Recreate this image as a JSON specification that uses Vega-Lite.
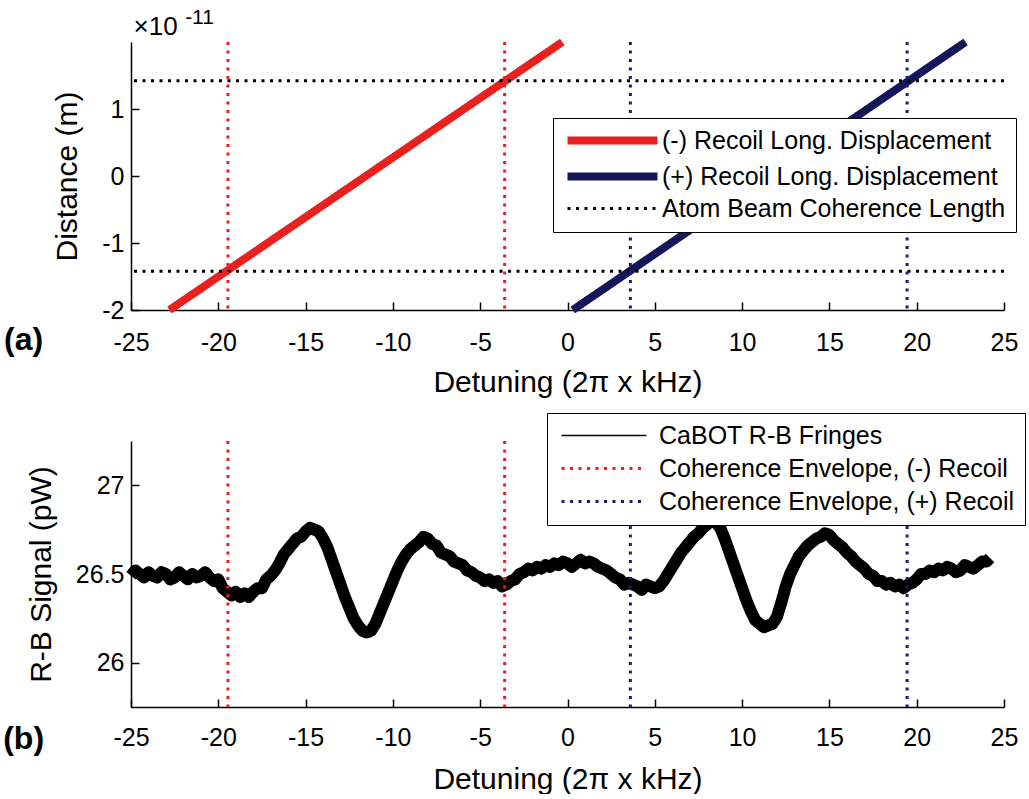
{
  "$schema": "https://vega.github.io/schema/vega-lite/v6.json",
  "background": "white",
  "padding": {"left": 3, "top": 6, "right": 0, "bottom": 0},
  "bounds": "flush",
  "spacing": 131,
  "config": {
    "font": "Liberation Sans",
    "view": {"stroke": null},
    "axis": {
      "labelFont": "Liberation Sans", "labelFontSize": 25, "labelColor": "black",
      "titleFont": "Liberation Sans", "titleFontSize": 30, "titleFontWeight": "normal", "titleColor": "black",
      "domainColor": "black", "domainWidth": 1.5, "tickColor": "black", "tickWidth": 1.5, "tickSize": -8,
      "grid": false, "labelFlush": false, "labelOverlap": false, "labelBound": false
    },
    "legend": {
      "labelFont": "Liberation Sans", "labelFontSize": 25, "labelColor": "black", "labelLimit": 0,
      "strokeColor": "black", "fillColor": "white", "padding": 10,
      "rowPadding": 7
    }
  },
  "datasets": {
    "recoil_lines": [
      {"series": "(-) Recoil Long. Displacement", "detuning": -22.8, "distance": -2e-11},
      {"series": "(-) Recoil Long. Displacement", "detuning": -0.3, "distance": 2e-11},
      {"series": "(+) Recoil Long. Displacement", "detuning": 0.3, "distance": -2e-11},
      {"series": "(+) Recoil Long. Displacement", "detuning": 22.8, "distance": 2e-11}
    ],
    "coherence": [
      {"series": "Atom Beam Coherence Length", "distance": 1.42e-11},
      {"series": "Atom Beam Coherence Length", "distance": -1.42e-11}
    ],
    "envelope_a": [
      {"recoil": "-", "detuning": -19.45},
      {"recoil": "-", "detuning": -3.6},
      {"recoil": "+", "detuning": 3.6},
      {"recoil": "+", "detuning": 19.45}
    ],
    "envelope_b": [
      {"series": "Coherence Envelope, (-) Recoil", "detuning": -19.45},
      {"series": "Coherence Envelope, (-) Recoil", "detuning": -3.6},
      {"series": "Coherence Envelope, (+) Recoil", "detuning": 3.6},
      {"series": "Coherence Envelope, (+) Recoil", "detuning": 19.45}
    ],
    "fringes": [
      {"detuning": -25, "signal": 26.49}, {"detuning": -24.75, "signal": 26.52}, {"detuning": -24.5, "signal": 26.5}, {"detuning": -24.25, "signal": 26.48},
      {"detuning": -24, "signal": 26.51}, {"detuning": -23.75, "signal": 26.49}, {"detuning": -23.5, "signal": 26.48}, {"detuning": -23.25, "signal": 26.51},
      {"detuning": -23, "signal": 26.5}, {"detuning": -22.75, "signal": 26.47}, {"detuning": -22.5, "signal": 26.48}, {"detuning": -22.25, "signal": 26.51},
      {"detuning": -22, "signal": 26.49}, {"detuning": -21.75, "signal": 26.47}, {"detuning": -21.5, "signal": 26.5}, {"detuning": -21.25, "signal": 26.48},
      {"detuning": -21, "signal": 26.49}, {"detuning": -20.75, "signal": 26.51}, {"detuning": -20.5, "signal": 26.48}, {"detuning": -20.25, "signal": 26.46},
      {"detuning": -20, "signal": 26.47}, {"detuning": -19.75, "signal": 26.42}, {"detuning": -19.5, "signal": 26.4}, {"detuning": -19.25, "signal": 26.38},
      {"detuning": -19, "signal": 26.4}, {"detuning": -18.75, "signal": 26.37}, {"detuning": -18.5, "signal": 26.39}, {"detuning": -18.25, "signal": 26.37},
      {"detuning": -18, "signal": 26.4}, {"detuning": -17.75, "signal": 26.42}, {"detuning": -17.5, "signal": 26.42}, {"detuning": -17.25, "signal": 26.47},
      {"detuning": -17, "signal": 26.49}, {"detuning": -16.75, "signal": 26.52}, {"detuning": -16.5, "signal": 26.56}, {"detuning": -16.25, "signal": 26.61},
      {"detuning": -16, "signal": 26.64}, {"detuning": -15.75, "signal": 26.67}, {"detuning": -15.5, "signal": 26.7}, {"detuning": -15.25, "signal": 26.71},
      {"detuning": -15, "signal": 26.74}, {"detuning": -14.75, "signal": 26.76}, {"detuning": -14.5, "signal": 26.75}, {"detuning": -14.25, "signal": 26.74},
      {"detuning": -14, "signal": 26.7}, {"detuning": -13.75, "signal": 26.65}, {"detuning": -13.5, "signal": 26.58}, {"detuning": -13.25, "signal": 26.51},
      {"detuning": -13, "signal": 26.44}, {"detuning": -12.75, "signal": 26.37}, {"detuning": -12.5, "signal": 26.31}, {"detuning": -12.25, "signal": 26.25},
      {"detuning": -12, "signal": 26.21}, {"detuning": -11.75, "signal": 26.18}, {"detuning": -11.5, "signal": 26.17}, {"detuning": -11.25, "signal": 26.18},
      {"detuning": -11, "signal": 26.22}, {"detuning": -10.75, "signal": 26.28}, {"detuning": -10.5, "signal": 26.34}, {"detuning": -10.25, "signal": 26.4},
      {"detuning": -10, "signal": 26.46}, {"detuning": -9.75, "signal": 26.52}, {"detuning": -9.5, "signal": 26.57}, {"detuning": -9.25, "signal": 26.61},
      {"detuning": -9, "signal": 26.64}, {"detuning": -8.75, "signal": 26.66}, {"detuning": -8.5, "signal": 26.68}, {"detuning": -8.25, "signal": 26.71},
      {"detuning": -8, "signal": 26.7}, {"detuning": -7.75, "signal": 26.67}, {"detuning": -7.5, "signal": 26.66}, {"detuning": -7.25, "signal": 26.62},
      {"detuning": -7, "signal": 26.61}, {"detuning": -6.75, "signal": 26.6}, {"detuning": -6.5, "signal": 26.57}, {"detuning": -6.25, "signal": 26.56},
      {"detuning": -6, "signal": 26.55}, {"detuning": -5.75, "signal": 26.52}, {"detuning": -5.5, "signal": 26.51}, {"detuning": -5.25, "signal": 26.49},
      {"detuning": -5, "signal": 26.48}, {"detuning": -4.75, "signal": 26.46}, {"detuning": -4.5, "signal": 26.47}, {"detuning": -4.25, "signal": 26.45},
      {"detuning": -4, "signal": 26.46}, {"detuning": -3.75, "signal": 26.43}, {"detuning": -3.5, "signal": 26.44}, {"detuning": -3.25, "signal": 26.46},
      {"detuning": -3, "signal": 26.47}, {"detuning": -2.75, "signal": 26.5}, {"detuning": -2.5, "signal": 26.51}, {"detuning": -2.25, "signal": 26.53},
      {"detuning": -2, "signal": 26.52}, {"detuning": -1.75, "signal": 26.54}, {"detuning": -1.5, "signal": 26.53}, {"detuning": -1.25, "signal": 26.55},
      {"detuning": -1, "signal": 26.54}, {"detuning": -0.75, "signal": 26.56}, {"detuning": -0.5, "signal": 26.55}, {"detuning": -0.25, "signal": 26.57},
      {"detuning": 0, "signal": 26.56}, {"detuning": 0.25, "signal": 26.54}, {"detuning": 0.5, "signal": 26.56}, {"detuning": 0.75, "signal": 26.58},
      {"detuning": 1, "signal": 26.56}, {"detuning": 1.25, "signal": 26.57}, {"detuning": 1.5, "signal": 26.56}, {"detuning": 1.75, "signal": 26.54},
      {"detuning": 2, "signal": 26.53}, {"detuning": 2.25, "signal": 26.52}, {"detuning": 2.5, "signal": 26.5}, {"detuning": 2.75, "signal": 26.48},
      {"detuning": 3, "signal": 26.47}, {"detuning": 3.25, "signal": 26.44}, {"detuning": 3.5, "signal": 26.45}, {"detuning": 3.75, "signal": 26.44},
      {"detuning": 4, "signal": 26.43}, {"detuning": 4.25, "signal": 26.41}, {"detuning": 4.5, "signal": 26.44}, {"detuning": 4.75, "signal": 26.43},
      {"detuning": 5, "signal": 26.42}, {"detuning": 5.25, "signal": 26.43}, {"detuning": 5.5, "signal": 26.46}, {"detuning": 5.75, "signal": 26.5},
      {"detuning": 6, "signal": 26.54}, {"detuning": 6.25, "signal": 26.58}, {"detuning": 6.5, "signal": 26.62}, {"detuning": 6.75, "signal": 26.65},
      {"detuning": 7, "signal": 26.68}, {"detuning": 7.25, "signal": 26.71}, {"detuning": 7.5, "signal": 26.73}, {"detuning": 7.75, "signal": 26.76},
      {"detuning": 8, "signal": 26.78}, {"detuning": 8.25, "signal": 26.8}, {"detuning": 8.5, "signal": 26.79}, {"detuning": 8.75, "signal": 26.76},
      {"detuning": 9, "signal": 26.7}, {"detuning": 9.25, "signal": 26.63}, {"detuning": 9.5, "signal": 26.56}, {"detuning": 9.75, "signal": 26.49},
      {"detuning": 10, "signal": 26.42}, {"detuning": 10.25, "signal": 26.35}, {"detuning": 10.5, "signal": 26.29}, {"detuning": 10.75, "signal": 26.24},
      {"detuning": 11, "signal": 26.22}, {"detuning": 11.25, "signal": 26.2}, {"detuning": 11.5, "signal": 26.21}, {"detuning": 11.75, "signal": 26.22},
      {"detuning": 12, "signal": 26.26}, {"detuning": 12.25, "signal": 26.34}, {"detuning": 12.5, "signal": 26.43}, {"detuning": 12.75, "signal": 26.5},
      {"detuning": 13, "signal": 26.55}, {"detuning": 13.25, "signal": 26.6}, {"detuning": 13.5, "signal": 26.63}, {"detuning": 13.75, "signal": 26.66},
      {"detuning": 14, "signal": 26.68}, {"detuning": 14.25, "signal": 26.7}, {"detuning": 14.5, "signal": 26.71}, {"detuning": 14.75, "signal": 26.73},
      {"detuning": 15, "signal": 26.72}, {"detuning": 15.25, "signal": 26.69}, {"detuning": 15.5, "signal": 26.67}, {"detuning": 15.75, "signal": 26.65},
      {"detuning": 16, "signal": 26.62}, {"detuning": 16.25, "signal": 26.6}, {"detuning": 16.5, "signal": 26.57}, {"detuning": 16.75, "signal": 26.55},
      {"detuning": 17, "signal": 26.53}, {"detuning": 17.25, "signal": 26.5}, {"detuning": 17.5, "signal": 26.49}, {"detuning": 17.75, "signal": 26.46},
      {"detuning": 18, "signal": 26.46}, {"detuning": 18.25, "signal": 26.44}, {"detuning": 18.5, "signal": 26.45}, {"detuning": 18.75, "signal": 26.43},
      {"detuning": 19, "signal": 26.44}, {"detuning": 19.25, "signal": 26.42}, {"detuning": 19.5, "signal": 26.44}, {"detuning": 19.75, "signal": 26.45},
      {"detuning": 20, "signal": 26.47}, {"detuning": 20.25, "signal": 26.5}, {"detuning": 20.5, "signal": 26.5}, {"detuning": 20.75, "signal": 26.52},
      {"detuning": 21, "signal": 26.51}, {"detuning": 21.25, "signal": 26.53}, {"detuning": 21.5, "signal": 26.52}, {"detuning": 21.75, "signal": 26.54},
      {"detuning": 22, "signal": 26.53}, {"detuning": 22.25, "signal": 26.51}, {"detuning": 22.5, "signal": 26.52}, {"detuning": 22.75, "signal": 26.55},
      {"detuning": 23, "signal": 26.54}, {"detuning": 23.25, "signal": 26.53}, {"detuning": 23.5, "signal": 26.55}, {"detuning": 23.75, "signal": 26.57},
      {"detuning": 24, "signal": 26.57}, {"detuning": 24.2, "signal": 26.59}
    ]
  },
  "vconcat": [
    {
      "width": 873,
      "height": 268,
      "layer": [
        {
          "data": {"name": "recoil_lines"},
          "mark": {"type": "line", "strokeCap": "butt", "strokeWidth": 8},
          "encoding": {
            "x": {"field": "detuning", "type": "quantitative", "scale": {"domain": [-25, 25], "nice": false, "zero": false},
                  "axis": {"title": "Detuning (2π x kHz)", "values": [-25, -20, -15, -10, -5, 0, 5, 10, 15, 20, 25], "labelExpr": "'' + datum.value", "labelPadding": 28, "titlePadding": 12}},
            "y": {"field": "distance", "type": "quantitative", "scale": {"domain": [-2e-11, 2e-11], "nice": false, "zero": false},
                  "axis": {"title": "Distance (m)", "values": [-2e-11, -1e-11, 0, 1e-11], "labelExpr": "'' + round(datum.value * 1e11)", "labelPadding": 15, "titlePadding": 19}},
            "color": {"field": "series", "type": "nominal",
                      "scale": {"domain": ["(-) Recoil Long. Displacement", "(+) Recoil Long. Displacement", "Atom Beam Coherence Length"], "range": ["#e8201e", "#16165a", "#000000"]},
                      "legend": {"title": null, "orient": "none", "legendX": 422, "legendY": 76, "symbolSize": 256, "symbolType": "M-1,0H10.25", "labelOffset": 74, "rowPadding": 3,
                                 "encode": {"symbols": {"update": {"strokeWidth": {"signal": "datum.value === 'Atom Beam Coherence Length' ? 3 : 8"}}}}}},
            "strokeDash": {"field": "series", "type": "nominal",
                      "scale": {"domain": ["(-) Recoil Long. Displacement", "(+) Recoil Long. Displacement", "Atom Beam Coherence Length"], "range": [[1, 0], [1, 0], [3, 5.5]]},
                      "legend": {"title": null, "orient": "none", "legendX": 422, "legendY": 76, "symbolSize": 256, "symbolType": "M-1,0H10.25", "labelOffset": 74, "rowPadding": 3,
                                 "encode": {"symbols": {"update": {"strokeWidth": {"signal": "datum.value === 'Atom Beam Coherence Length' ? 3 : 8"}}}}}}
          }
        },
        {
          "data": {"name": "coherence"},
          "mark": {"type": "rule", "strokeCap": "butt", "strokeWidth": 3},
          "encoding": {
            "y": {"field": "distance", "type": "quantitative"},
            "color": {"field": "series", "type": "nominal"},
            "strokeDash": {"field": "series", "type": "nominal"}
          }
        },
        {
          "data": {"name": "envelope_a"},
          "transform": [{"filter": "datum.recoil == '-'"}],
          "mark": {"type": "rule", "color": "#f01c1c", "strokeWidth": 3, "strokeDash": [3, 5.5], "strokeCap": "butt"},
          "encoding": {"x": {"field": "detuning", "type": "quantitative"}}
        },
        {
          "data": {"name": "envelope_a"},
          "transform": [{"filter": "datum.recoil == '+'"}],
          "mark": {"type": "rule", "color": "#1a1a7a", "strokeWidth": 3, "strokeDash": [3, 5.5], "strokeCap": "butt"},
          "encoding": {"x": {"field": "detuning", "type": "quantitative"}}
        },
        {
          "data": {"values": [{"label": "×10"}]},
          "mark": {"type": "text", "fontSize": 26, "align": "left", "baseline": "alphabetic", "color": "black"},
          "encoding": {"x": {"datum": -24.85}, "y": {"datum": 2.1e-11}, "text": {"field": "label"}}
        },
        {
          "data": {"values": [{"label": "-11"}]},
          "mark": {"type": "text", "fontSize": 21, "align": "left", "baseline": "alphabetic", "color": "black"},
          "encoding": {"x": {"datum": -21.9}, "y": {"datum": 2.27e-11}, "text": {"field": "label"}}
        },
        {
          "data": {"values": [{"label": "(a)"}]},
          "mark": {"type": "text", "fontSize": 32, "fontWeight": "bold", "align": "center", "baseline": "middle", "color": "black"},
          "encoding": {"x": {"datum": -31.15}, "y": {"datum": -2.45e-11}, "text": {"field": "label"}}
        }
      ]
    },
    {
      "width": 873,
      "height": 266,
      "layer": [
        {
          "data": {"name": "fringes"},
          "transform": [{"calculate": "'CaBOT R-B Fringes'", "as": "series"}],
          "mark": {"type": "line", "strokeWidth": 12, "strokeJoin": "round"},
          "encoding": {
            "x": {"field": "detuning", "type": "quantitative", "scale": {"domain": [-25, 25], "nice": false, "zero": false},
                  "axis": {"title": "Detuning (2π x kHz)", "values": [-25, -20, -15, -10, -5, 0, 5, 10, 15, 20, 25], "labelExpr": "'' + datum.value", "labelPadding": 26, "titlePadding": 14}},
            "y": {"field": "signal", "type": "quantitative", "scale": {"domain": [25.75, 27.25], "nice": false, "zero": false},
                  "axis": {"title": "R-B Signal (pW)", "values": [26, 26.5, 27], "labelExpr": "'' + datum.value", "labelPadding": 15, "titlePadding": 19}},
            "color": {"field": "series", "type": "nominal",
                      "scale": {"domain": ["CaBOT R-B Fringes", "Coherence Envelope, (-) Recoil", "Coherence Envelope, (+) Recoil"], "range": ["#000000", "#f01c1c", "#1a1a7a"]},
                      "legend": {"title": null, "orient": "none", "legendX": 416, "legendY": -28, "symbolSize": 256, "symbolType": "M-1,0H9.6", "labelOffset": 77,
                                 "encode": {"symbols": {"update": {"strokeWidth": {"signal": "datum.value === 'CaBOT R-B Fringes' ? 1.5 : 3"}}}}}},
            "strokeDash": {"field": "series", "type": "nominal",
                      "scale": {"domain": ["CaBOT R-B Fringes", "Coherence Envelope, (-) Recoil", "Coherence Envelope, (+) Recoil"], "range": [[1, 0], [3, 5.5], [3, 5.5]]},
                      "legend": {"title": null, "orient": "none", "legendX": 416, "legendY": -28, "symbolSize": 256, "symbolType": "M-1,0H9.6", "labelOffset": 77,
                                 "encode": {"symbols": {"update": {"strokeWidth": {"signal": "datum.value === 'CaBOT R-B Fringes' ? 1.5 : 3"}}}}}}
          }
        },
        {
          "data": {"name": "envelope_b"},
          "mark": {"type": "rule", "strokeCap": "butt", "strokeWidth": 3},
          "encoding": {
            "x": {"field": "detuning", "type": "quantitative"},
            "color": {"field": "series", "type": "nominal"},
            "strokeDash": {"field": "series", "type": "nominal"}
          }
        },
        {
          "data": {"values": [{"label": "(b)"}]},
          "mark": {"type": "text", "fontSize": 32, "fontWeight": "bold", "align": "center", "baseline": "middle", "color": "black"},
          "encoding": {"x": {"datum": -31.15}, "y": {"datum": 25.57}, "text": {"field": "label"}}
        }
      ]
    }
  ],
  "resolve": {
    "scale": {"x": "independent", "y": "independent", "color": "independent", "strokeDash": "independent"},
    "legend": {"color": "independent", "strokeDash": "independent"}
  }
}
